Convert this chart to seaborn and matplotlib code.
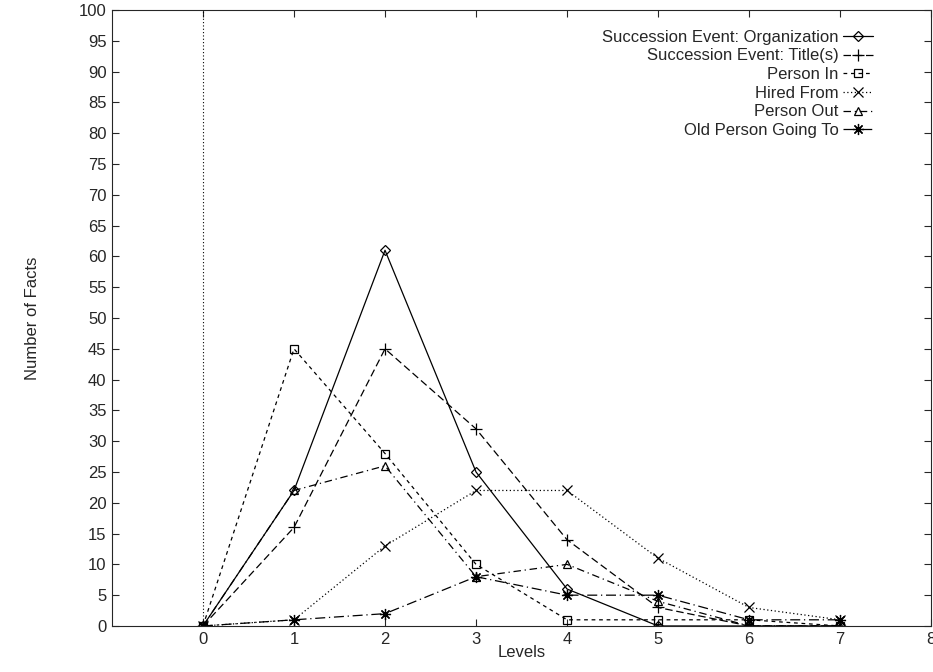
import matplotlib
matplotlib.use("Agg")
import matplotlib.pyplot as plt
import seaborn as sns
import pandas as pd

levels = [0, 1, 2, 3, 4, 5, 6, 7]
organization = [0, 22, 61, 25, 6, 0, 0, 0]
titles = [0, 16, 45, 32, 14, 3, 0, 0]
person_in = [0, 45, 28, 10, 1, 1, 1, 0]
hired_from = [0, 1, 13, 22, 22, 11, 3, 1]
person_out = [0, 22, 26, 8, 10, 4, 0, 0]
old_person = [0, 1, 2, 8, 5, 5, 1, 1]

labels = ["Succession Event: Organization", "Succession Event: Title(s)", "Person In",
          "Hired From", "Person Out", "Old Person Going To"]
series = [organization, titles, person_in, hired_from, person_out, old_person]

sns.set_style("ticks")
plt.rcParams['font.family'] = ['Liberation Sans', 'DejaVu Sans']

styles = [
    dict(linestyle='-', marker='D', markersize=5),
    dict(linestyle=(0, (6, 3)), marker='+', markersize=8),
    dict(linestyle=(0, (3, 3)), marker='s', markersize=6),
    dict(linestyle=(0, (1, 2)), marker='x', markersize=7),
    dict(linestyle=(0, (6, 3, 1, 3)), marker='^', markersize=6),
    dict(linestyle=(0, (8, 3, 1, 3)), marker=(8, 2, 0), markersize=8),
]

fig = plt.figure(figsize=(9.33, 6.72), dpi=100)
ax = fig.add_axes([0.12, 0.0685, 0.878, 0.9165])

for lab, vals, st in zip(labels, series, styles):
    df = pd.DataFrame({"Levels": levels, "Facts": vals})
    sns.lineplot(data=df, x="Levels", y="Facts", ax=ax, color='black', linewidth=0.9,
                 marker=st['marker'], markersize=st['markersize'], markerfacecolor='none',
                 markeredgecolor='black', markeredgewidth=0.9, linestyle=st['linestyle'],
                 label=lab)

ax.axvline(0, color='black', linestyle=(0, (1, 2)), linewidth=0.8)
ax.set_xlim(-1, 8)
ax.set_ylim(0, 100)
ax.set_xticks(range(0, 9))
ax.set_yticks(range(0, 101, 5))
ax.tick_params(direction='in', top=True, right=True, labelsize=12, length=5, width=0.8, pad=4)
for s in ax.spines.values():
    s.set_linewidth(0.8)
    s.set_visible(True)
ax.set_xlabel("Levels", fontsize=12, labelpad=-1)
ax.set_ylabel("Number of Facts", fontsize=12, labelpad=28)

leg = ax.legend(loc='upper right', bbox_to_anchor=(0.937, 0.979), frameon=False, markerfirst=False,
                fontsize=12, handlelength=1.8, handletextpad=0.25, labelspacing=0.22, borderaxespad=0)
fig.savefig("out.png", dpi=100)
